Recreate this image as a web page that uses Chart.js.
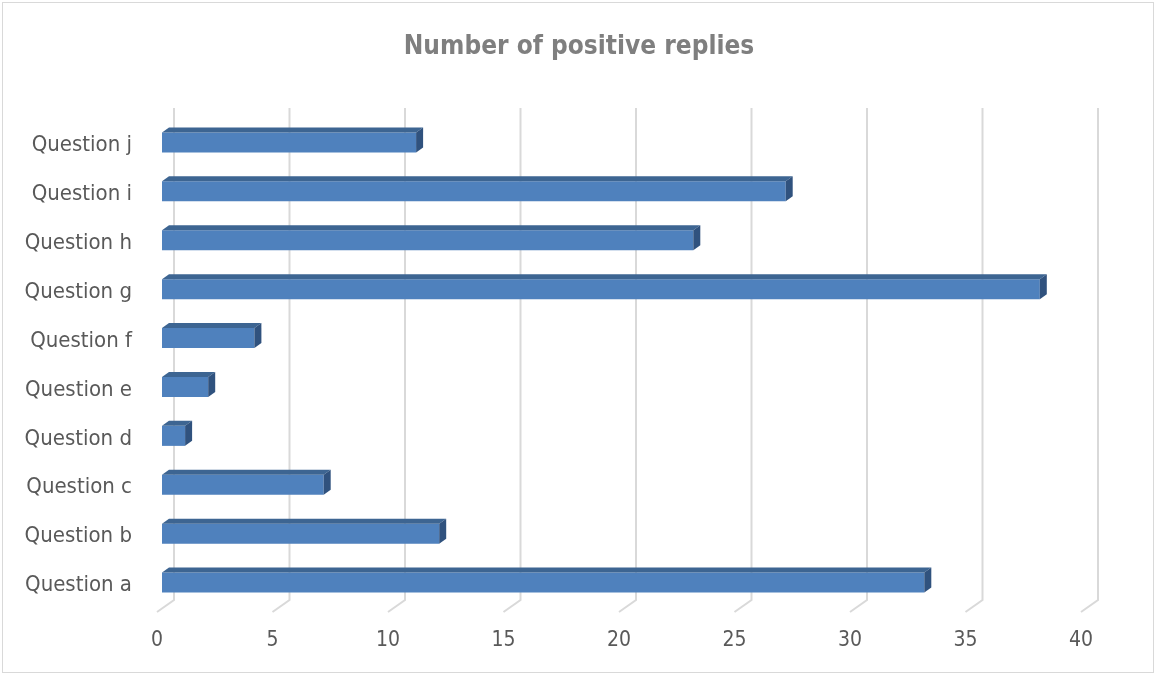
<!DOCTYPE html>
<html lang="en">
<head>
<meta charset="UTF-8">
<title>Number of positive replies</title>
<script src="https://cdn.jsdelivr.net/npm/chart.js"></script>
<style>
    html, body { margin: 0; padding: 0; background: #fff; }
    .grafico { position: relative; width: 1156px; height: 674px; }
</style>
</head>
<body>
<div class="grafico">
    <canvas id="graficoRespostas" width="1156" height="674"></canvas>
</div>

<script>
    // dados do grafico
    const perguntas = ['Question a', 'Question b', 'Question c', 'Question d', 'Question e',
                       'Question f', 'Question g', 'Question h', 'Question i', 'Question j'];
    const respostasPositivas = [33, 12, 7, 1, 2, 4, 38, 23, 27, 11];
    const ticksX = [0, 5, 10, 15, 20, 25, 30, 35, 40];
    const titulo = 'Number of positive replies';

    const fonte = "'Liberation Sans Narrow', 'DejaVu Sans Condensed', 'Arial Narrow', sans-serif";

    // efeito 3D: profundidade das barras e das linhas de grade
    const prof = { dx: 7, dy: 5 };

    const fundoETitulo = {
        id: 'fundoETitulo',
        beforeDraw(chart) {
            const ctx = chart.ctx;
            ctx.save();
            ctx.fillStyle = '#fff';
            ctx.fillRect(0, 0, chart.width, chart.height);
            ctx.strokeStyle = '#d9d9d9';
            ctx.lineWidth = 1;
            ctx.strokeRect(2.5, 2.5, 1151, 670);
            // titulo centralizado na largura toda
            ctx.fillStyle = '#7f7f7f';
            ctx.font = 'bold 26px ' + fonte;
            ctx.textAlign = 'center';
            ctx.textBaseline = 'middle';
            ctx.fillText(titulo, 579, 47);
            ctx.restore();
        }
    };

    const grade3d = {
        id: 'grade3d',
        beforeDatasetsDraw(chart) {
            const ctx = chart.ctx;
            const x = chart.scales.x;
            const area = chart.chartArea;
            const topo = area.top - 10;
            const fundo = area.bottom - 7;
            ctx.save();
            ctx.strokeStyle = '#d9d9d9';
            ctx.lineWidth = 2;
            ticksX.forEach(v => {
                const px = x.getPixelForValue(v) + 12;
                ctx.beginPath();
                ctx.moveTo(px, topo);
                ctx.lineTo(px, fundo);
                ctx.lineTo(px - 17, fundo + 12);
                ctx.stroke();
            });
            ctx.restore();
        }
    };

    const barras3d = {
        id: 'barras3d',
        afterDatasetsDraw(chart) {
            const ctx = chart.ctx;
            const meta = chart.getDatasetMeta(0);
            ctx.save();
            meta.data.forEach(bar => {
                const p = bar.getProps(['x', 'y', 'base', 'height'], true);
                const t = p.y - p.height / 2;
                const b = p.y + p.height / 2;
                // face de cima
                ctx.fillStyle = '#3d6592';
                ctx.beginPath();
                ctx.moveTo(p.base, t);
                ctx.lineTo(p.base + prof.dx, t - prof.dy);
                ctx.lineTo(p.x + prof.dx, t - prof.dy);
                ctx.lineTo(p.x, t);
                ctx.closePath();
                ctx.fill();
                // face lateral
                ctx.fillStyle = '#30527e';
                ctx.beginPath();
                ctx.moveTo(p.x, t);
                ctx.lineTo(p.x + prof.dx, t - prof.dy);
                ctx.lineTo(p.x + prof.dx, b - prof.dy);
                ctx.lineTo(p.x, b);
                ctx.closePath();
                ctx.fill();
            });
            ctx.restore();
        }
    };

    new Chart(document.getElementById('graficoRespostas').getContext('2d'), {
        type: 'bar',
        data: {
            labels: perguntas,
            datasets: [{
                data: respostasPositivas,
                backgroundColor: '#4f81bd',
                borderWidth: 0,
                categoryPercentage: 1,
                barPercentage: 0.41
            }]
        },
        options: {
            indexAxis: 'y',
            responsive: false,
            animation: false,
            events: [],
            layout: { padding: { left: 0, right: 70, top: 118, bottom: 0 } },
            plugins: {
                legend: { display: false },
                tooltip: { enabled: false },
                title: { display: false }
            },
            scales: {
                x: {
                    min: 0,
                    max: 40,
                    afterBuildTicks: s => { s.ticks = ticksX.map(v => ({ value: v })); },
                    afterFit: s => { s.height = 67; },
                    grid: { display: false, drawTicks: false },
                    border: { display: false },
                    ticks: {
                        color: '#595959',
                        font: { family: fonte, size: 21 },
                        padding: 21,
                        labelOffset: -5
                    }
                },
                y: {
                    reverse: true,
                    afterFit: s => { s.width = 162; },
                    grid: { display: false, drawTicks: false },
                    border: { display: false },
                    ticks: {
                        color: '#595959',
                        font: { family: fonte, size: 22 },
                        padding: 30,
                        labelOffset: 3
                    }
                }
            }
        },
        plugins: [fundoETitulo, grade3d, barras3d]
    });
</script>
</body>
</html>
